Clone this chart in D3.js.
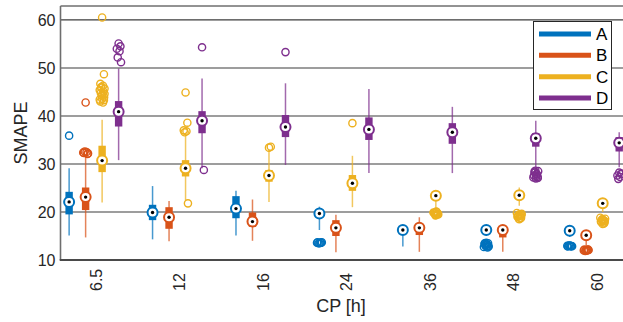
<!DOCTYPE html>
<html><head><meta charset="utf-8">
<script src="https://cdn.jsdelivr.net/npm/d3@7"></script>
<style>
body{margin:0;background:#fff}
svg{display:block;font-family:"Liberation Sans",Arial,Helvetica,sans-serif}
</style>
</head><body>
<svg id="chart" width="623" height="322"></svg>
<script>
// Categories (forecast horizon) and series
const categories = ["6.5", "12", "16", "24", "36", "48", "60"];
const seriesNames = ["A", "B", "C", "D"];
const seriesColors = ["#0072BD", "#D95319", "#EDB120", "#7E2F8E"];
const yTicks = [10, 20, 30, 40, 50, 60];

// Series A: whisker ends, quartiles, median, outliers
const lowA  = [15.1, 14.3, 15.1, 16.25, 12.8, 15.0, 14.8];
const q1A   = [19.5, 18.3, 18.7, 19.1, 15.9, 15.8, 15.6];
const medA  = [22.1, 19.9, 20.7, 19.7, 16.25, 16.25, 16.1];
const q3A   = [24.2, 21.5, 23.3, 20.4, 16.6, 16.7, 16.5];
const highA = [29.1, 25.4, 24.4, 21.1, 16.9, 17.0, 16.9];
const outA  = [[35.9], [], [],
  [13.5, 13.6, 13.7, 13.6, 13.5, 13.7, 13.6, 13.6],
  [],
  [13.6, 13.5, 13.4, 13.2, 13.0, 12.8, 12.7, 12.6, 13.5, 12.8, 13.3, 12.9],
  [13.0, 12.9, 12.8, 12.9, 13.0, 12.85, 12.95, 12.9]];

// Series B
const lowB  = [14.7, 13.9, 14.0, 11.6, 11.7, 11.7, 13.0];
const q1B   = [20.4, 16.5, 16.9, 15.0, 15.2, 14.7, 14.6];
const medB  = [23.1, 18.9, 18.0, 16.7, 16.7, 16.25, 15.15];
const q3B   = [25.1, 21.0, 19.9, 18.3, 17.2, 16.6, 15.6];
const highB = [31.6, 22.3, 22.6, 19.4, 18.9, 17.0, 15.8];
const outB  = [[42.8, 32.1, 32.3, 32.5, 32.6, 32.2, 32.4], [], [], [], [], [],
  [12.0, 12.1, 12.2, 12.0, 11.9, 12.1, 12.0, 12.2]];

// Series C
const lowC  = [22.0, 22.5, 22.1, 21.0, 20.6, 21.3, 20.0];
const q1C   = [28.3, 27.4, 26.3, 24.4, 23.0, 23.1, 21.4];
const medC  = [30.7, 29.1, 27.6, 26.0, 23.4, 23.5, 21.8];
const q3C   = [33.8, 30.8, 28.75, 27.7, 23.8, 24.0, 22.2];
const highC = [39.2, 36.5, 33.0, 31.7, 24.0, 25.1, 22.6];
const outC  = [
  [60.5, 48.7, 46.7, 46.3, 46.0, 45.7, 45.4, 45.1, 44.8, 44.5, 44.2, 43.9, 43.6, 43.3, 43.0, 42.8, 45.9, 44.6, 43.4],
  [44.9, 38.6, 37.0, 36.8, 36.6, 21.8],
  [33.4, 33.6],
  [38.5],
  [19.4, 19.6, 19.8, 20.0, 19.7, 19.5, 19.9, 19.6, 19.8, 20.1, 19.3, 19.7],
  [18.5, 18.8, 19.0, 19.2, 19.4, 19.6, 19.8, 18.7, 19.1, 19.5, 18.6, 19.3],
  [17.5, 17.8, 18.0, 18.2, 18.4, 18.6, 18.8, 17.6, 17.9, 18.3, 18.5, 18.1]];

// Series D
const lowD  = [30.8, 29.1, 29.8, 28.1, 28.1, 29.3, 29.3];
const q1D   = [37.8, 36.4, 35.6, 35.0, 34.2, 33.6, 32.6];
const medD  = [40.9, 39.0, 37.7, 37.2, 36.6, 35.35, 34.4];
const q3D   = [43.1, 41.0, 40.2, 39.7, 38.5, 36.4, 35.6];
const highD = [49.9, 47.8, 46.8, 45.6, 41.9, 39.0, 36.6];
const outD  = [[55.1, 54.5, 54.0, 53.5, 52.2, 51.2], [54.3, 28.75], [53.3], [], [],
  [27.0, 27.3, 27.6, 27.9, 28.2, 28.5, 27.2, 27.8, 28.4, 27.5, 28.6, 27.1],
  [28.2, 27.9, 27.6, 27.3, 26.9, 28.0]];

const stats = {
  A: {low: lowA, q1: q1A, med: medA, q3: q3A, high: highA, out: outA},
  B: {low: lowB, q1: q1B, med: medB, q3: q3B, high: highB, out: outB},
  C: {low: lowC, q1: q1C, med: medC, q3: q3C, high: highC, out: outC},
  D: {low: lowD, q1: q1D, med: medD, q3: q3D, high: highD, out: outD}
};

const svg = d3.select("#chart");
const plot = {left: 60.5, right: 632, top: 6, bottom: 260};

// Group positions along x, series offsets within a group
const x = d3.scaleLinear().domain([-0.4, 6.45]).range([plot.left, plot.right]);
const xOff = d3.scalePoint().domain(seriesNames).range([-24.75, 24.75]);
const y = d3.scaleLinear().domain([10, 62.9]).range([plot.bottom, plot.top]);
const color = d3.scaleOrdinal().domain(seriesNames).range(seriesColors);

// Horizontal grid
svg.append("g").selectAll("line").data(yTicks.filter(t => t > 10)).join("line")
  .attr("x1", plot.left).attr("x2", plot.right)
  .attr("y1", d => y(d)).attr("y2", d => y(d))
  .attr("stroke", "#3c3c3c").attr("stroke-width", 1.1);

// Top frame line
svg.append("line").attr("x1", plot.left).attr("x2", plot.right)
  .attr("y1", plot.top).attr("y2", plot.top)
  .attr("stroke", "#262626").attr("stroke-width", 1);

// Y axis
const yAxis = svg.append("g").attr("transform", `translate(${plot.left},0)`)
  .call(d3.axisLeft(y).tickValues(yTicks).tickSize(0).tickPadding(5));
yAxis.select(".domain").remove();
yAxis.selectAll("text").attr("font-size", 16).attr("fill", "#262626")
  .attr("font-family", "Liberation Sans, Arial, sans-serif");
svg.append("line").attr("x1", plot.left).attr("x2", plot.left)
  .attr("y1", plot.top).attr("y2", plot.bottom)
  .attr("stroke", "#6e6e6e").attr("stroke-width", 1.6);

// X axis with rotated category labels
const xAxis = svg.append("g").attr("transform", `translate(0,${plot.bottom})`)
  .call(d3.axisBottom(x).tickValues(d3.range(categories.length))
    .tickFormat(i => categories[i]).tickSize(0));
xAxis.select(".domain").remove();
xAxis.selectAll("text")
  .attr("font-size", 16).attr("fill", "#262626")
  .attr("font-family", "Liberation Sans, Arial, sans-serif")
  .attr("text-anchor", "start").attr("dy", "0.35em").attr("y", 0)
  .attr("transform", "translate(2,31) rotate(-90)");
svg.append("line").attr("x1", plot.left - 0.8).attr("x2", plot.right)
  .attr("y1", plot.bottom).attr("y2", plot.bottom)
  .attr("stroke", "#4a4a4a").attr("stroke-width", 1.8);

// Axis titles
svg.append("text").attr("transform", `translate(21,${(plot.top + plot.bottom) / 2}) rotate(-90)`)
  .attr("text-anchor", "middle").attr("dy", "0.35em")
  .attr("font-size", 18).attr("fill", "#262626").text("SMAPE");
svg.append("text").attr("x", 341).attr("y", 312)
  .attr("text-anchor", "middle")
  .attr("font-size", 18).attr("fill", "#262626").text("CP [h]");

// Boxes
const jitter = [0, 1.8, -1.8, 0.9, -0.9, 2.4, -2.4, 1.3, -1.3, 0.4, -0.4, 2.0];
const items = [];
seriesNames.forEach(s => categories.forEach((c, i) => items.push({s, i})));

const g = svg.append("g");
items.forEach(({s, i}) => {
  const st = stats[s];
  const cx = x(i) + xOff(s);
  const col = color(s);
  const bg = g.append("g");
  bg.append("line").attr("x1", cx).attr("x2", cx)
    .attr("y1", y(st.low[i])).attr("y2", y(st.high[i]))
    .attr("stroke", col).attr("stroke-width", 1.5).attr("stroke-opacity", 0.72);
  bg.append("rect").attr("x", cx - 3.7).attr("width", 7.4)
    .attr("y", y(st.q3[i])).attr("height", y(st.q1[i]) - y(st.q3[i]))
    .attr("fill", col);
  bg.selectAll("circle.out").data(st.out[i]).join("circle").attr("class", "out")
    .attr("cx", (d, k) => cx + jitter[k % jitter.length])
    .attr("cy", d => y(d)).attr("r", 3.6)
    .attr("fill", "none").attr("stroke", col).attr("stroke-width", 1.4);
  bg.append("circle").attr("cx", cx).attr("cy", y(st.med[i])).attr("r", 5)
    .attr("fill", "#fff").attr("stroke", col).attr("stroke-width", 2);
  bg.append("circle").attr("cx", cx).attr("cy", y(st.med[i])).attr("r", 1.7)
    .attr("fill", "#000");
});

// Legend
const lg = svg.append("g");
lg.append("rect").attr("x", 533.5).attr("y", 21.5).attr("width", 78).attr("height", 88)
  .attr("fill", "#fff").attr("stroke", "#262626").attr("stroke-width", 1);
const ly = d3.scalePoint().domain(seriesNames).range([34, 98]);
seriesNames.forEach(s => {
  lg.append("line").attr("x1", 539).attr("x2", 591)
    .attr("y1", ly(s)).attr("y2", ly(s))
    .attr("stroke", color(s)).attr("stroke-width", 5);
  lg.append("text").attr("x", 596).attr("y", ly(s)).attr("dy", "0.36em")
    .attr("font-size", 17).attr("fill", "#000").text(s);
});
</script>
</body></html>
